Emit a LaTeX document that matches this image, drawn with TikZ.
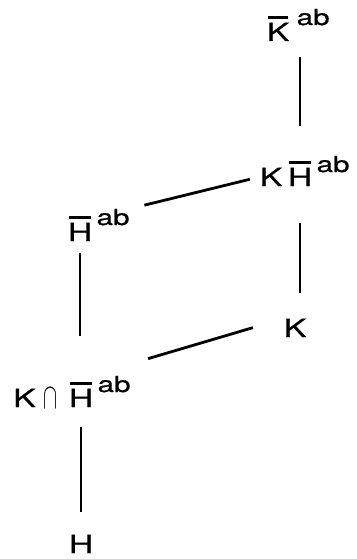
\documentclass[tikz,border=0pt]{standalone}
\usepackage{fontspec}
\usepackage{graphicx}
\setmainfont[FakeStretch=1.35,FakeBold=0.5]{TeX Gyre Heros}
\usetikzlibrary{positioning}

\newcommand{\barbox}[1]{\setbox0\hbox{#1}\rlap{\kern0.05em\raisebox{\dimexpr\ht0+3.5pt\relax}{\rule{\dimexpr\wd0-0.1em\relax}{3.2pt}}}\box0}

\begin{document}
\begin{tikzpicture}[x=1pt,y=-1pt]
	\tikzstyle{grp} = [inner sep=0pt, anchor=base, font=\fontsize{25}{25}\selectfont]
	\tikzstyle{sup} = [inner sep=0pt, font=\fontsize{22}{22}\selectfont]
	\tikzstyle{link} = [line width=2.8pt]

	\useasboundingbox (0,0) rectangle (356,559);

	\node [grp] (kbar) at (278,41) {\barbox{K}};
	\node [sup, right=7pt of kbar.base east, anchor=base west, yshift=16pt] (kbar-ab) {ab};

	\node [grp] (kh-k) at (271,186) {K};
	\node [grp] (kh-h) at (300,186) {\barbox{H}};
	\node [sup, right=4pt of kh-h.base east, anchor=base west, yshift=14pt] (kh-ab) {ab};

	\node [grp] (hbar) at (80,241) {\barbox{H}};
	\node [sup, right=4pt of hbar.base east, anchor=base west, yshift=16pt] (hbar-ab) {ab};

	\node [grp] (k) at (295,337) {K};

	\node [grp, anchor=base west] (cap-k) at (13,407) {K\kern8pt\raisebox{-1.5pt}{\scalebox{0.85}[1.45]{$\cap$}}};
	\node [grp] (cap-h) at (81,407) {\barbox{H}};
	\node [sup, right=4pt of cap-h.base east, anchor=base west, yshift=15pt] (cap-ab) {ab};

	\node [grp] (h) at (81,553) {H};

	\draw [link, shorten <=35pt, shorten >=16pt] (kh-h.north) -- (kh-h |- kbar.south);
	\draw [link, shorten <=37pt, shorten >=26pt] (kh-h.south) -- (kh-h |- k.north);
	\draw [link, shorten <=15pt, shorten >=10pt] (hbar-ab.north east) -- (kh-k.west);
	\draw [link, shorten <=12pt, shorten >=46pt] (hbar.south) -- (hbar |- cap-h.north);
	\draw [link, shorten <=18pt, shorten >=32pt] ([yshift=12pt]cap-ab.north east) -- (k.north west);
	\draw [link, shorten <=20pt, shorten >=23pt] (cap-h.south) -- (h.north);
\end{tikzpicture}
\end{document}
